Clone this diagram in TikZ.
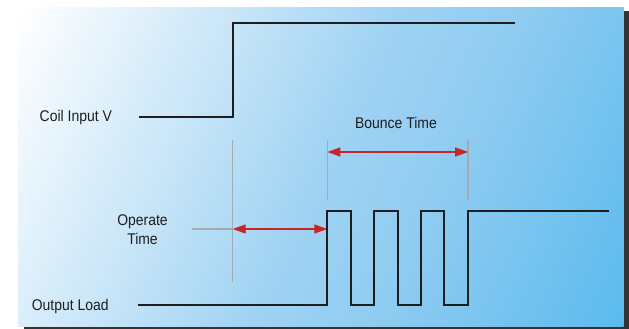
\documentclass[tikz,border=0pt]{standalone}
\usepackage{fontspec}
\setmainfont{Liberation Sans}[FakeStretch=0.9]
\usetikzlibrary{arrows.meta}

\definecolor{bgblue}{HTML}{5BBBEE}
\definecolor{bgmid}{HTML}{A0D3F3}
\definecolor{bgmid2}{HTML}{8ECBF1}
\definecolor{guidegray}{HTML}{A3AAB0}
\definecolor{arrowred}{HTML}{C4262A}
\definecolor{inkblack}{HTML}{1E1E1E}
\definecolor{shadowgray}{HTML}{343434}

\pgfdeclarehorizontalshading{panel}{100bp}{color(0bp)=(white); color(17bp)=(white);
  color(50bp)=(bgmid); color(62bp)=(bgmid2); color(83bp)=(bgblue); color(100bp)=(bgblue)}

\tikzset{
  wave/.style={inkblack,line width=2pt},
  guide/.style={guidegray,line width=1.3pt},
  span/.style={arrowred,line width=1.3pt,
    {Triangle[length=13pt,width=9pt]}-{Triangle[length=13pt,width=9pt]}},
  lbl/.style={text=inkblack,font=\fontsize{15.5}{19}\selectfont,inner sep=0pt}
}

\begin{document}
\begin{tikzpicture}[x=1pt,y=-1pt]
    \useasboundingbox (0,0) rectangle (629,329);
    % panel with its shadow
    \fill[shadowgray] (24,11) rectangle (629,329);
    \shade[shading=panel,shading angle=-25] (18,8) rectangle (623.5,326.5);

    % guide lines
    \coordinate (g1top) at (232.7,140);
    \coordinate (g1bot) at (232.7,282);
    \coordinate (g2top) at (327.3,140);
    \coordinate (g2bot) at (327.3,200);
    \coordinate (g3top) at (468.1,140);
    \coordinate (g3bot) at (468.1,200);
    \coordinate (optick) at (192,229);
    \coordinate (opA) at (232.7,229);
    \coordinate (opB) at (327.3,229);
    \coordinate (bnA) at (327.3,152);
    \coordinate (bnB) at (468.1,152);
    \draw[guide] (g1top) -- (g1bot);
    \draw[guide] (g2top) -- (g2bot);
    \draw[guide] (g3top) -- (g3bot);
    \draw[guide] (optick) -- (opA);

    % spans
    \draw[span] (opA) -- (opB);
    \draw[span] (bnA) -- (bnB);

    % waveforms
    \draw[wave] (138.8,117) -- (232.7,117) -- (232.7,23) -- (514.7,23);
    \draw[wave] (137.6,305)
      \foreach \x in {327.3,374,420.8} { -- (\x,305) -- (\x,211) -- ({\x+23.5},211) -- ({\x+23.5},305) }
      -- (468.1,305) -- (468.1,211) -- (608.9,211);

    % labels
    \node[lbl,anchor=base] (coil) at (75.8,121.5) {Coil Input V};
    \node[lbl,anchor=base] (load) at (70.2,310) {Output Load};
    \node[lbl,anchor=base] (bounce) at (396,128) {Bounce Time};
    \node[lbl,align=center] (operate) at (142.5,229.5) {Operate\\Time};
\end{tikzpicture}
\end{document}
